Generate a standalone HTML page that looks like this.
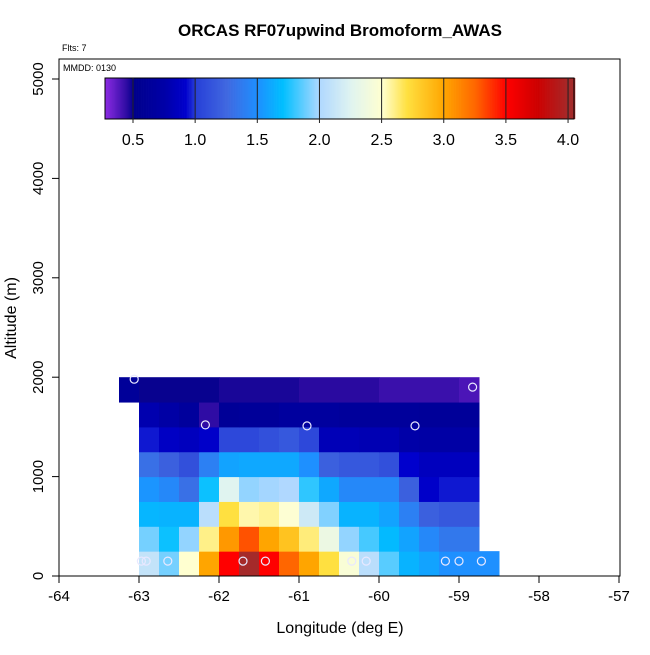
<!DOCTYPE html>
<html><head><meta charset="utf-8"><style>
body{margin:0;background:#fff}
svg text{font-family:"Liberation Sans",sans-serif}
</style></head><body>
<svg id="chart" width="650" height="650" xmlns="http://www.w3.org/2000/svg">
<text x="340" y="36" text-anchor="middle" font-size="17" font-weight="bold">ORCAS RF07upwind Bromoform_AWAS</text>
<text x="62" y="51" font-size="9">Flts: 7</text>
<g id="cells"></g>
<g id="pts"></g>
<rect x="59" y="59" width="561" height="517" fill="none" stroke="#000" stroke-width="1"/>
<text x="63" y="71" font-size="9">MMDD: 0130</text>
<g id="cbar"></g>
<g id="axes"></g>
<text x="340" y="633" text-anchor="middle" font-size="16">Longitude (deg E)</text>
<text transform="translate(16,318) rotate(-90)" text-anchor="middle" font-size="16">Altitude (m)</text>
</svg>
<script>
const xTicks=[-64,-63,-62,-61,-60,-59,-58,-57];
const yTicks=[0,1000,2000,3000,4000,5000];
const cbTicks=[0.5,1.0,1.5,2.0,2.5,3.0,3.5,4.0];
const colStart=-63.0, colWidth=0.25, rowHeight=250;
// rows from bottom (0-250 m upward); values in pptv
const row0=[2.1,1.9,2.5,3.0,3.5,4.0,3.5,3.25,3.0,2.7,2.45,2.05,1.85,1.65,1.58,1.5,1.5,1.5];
const row1=[1.9,1.72,1.95,2.6,3.05,3.3,3.0,2.85,2.62,2.35,1.95,1.82,1.68,1.58,1.45,1.35,1.35];
const row2=[1.66,1.65,1.65,2.05,2.7,2.55,2.58,2.48,2.15,1.92,1.65,1.65,1.58,1.4,1.2,1.15,1.15];
const row3=[1.52,1.45,1.3,1.72,2.25,1.95,1.98,2.0,1.78,1.6,1.45,1.45,1.45,1.2,0.9,0.95,0.95];
const row4=[1.3,1.2,1.1,1.4,1.58,1.6,1.6,1.6,1.5,1.2,1.15,1.15,1.1,0.92,0.85,0.85,0.85];
const row5=[0.95,0.88,0.85,0.9,1.05,1.05,1.1,1.15,1.05,0.82,0.82,0.8,0.8,0.75,0.72,0.72,0.72];
const row6=[0.78,0.72,0.65,0.44,0.6,0.62,0.62,0.66,0.66,0.66,0.64,0.64,0.64,0.64,0.62,0.62,0.62];
const rows=[row0,row1,row2,row3,row4,row5,row6];
// top layer (1750-2000 m) coarse bins: lon edges and values
const topEdges=[-63.25,-63,-62,-61,-60,-59,-58.75];
const topVals=[0.62,0.49,0.47,0.45,0.42,0.39];
const ptLon=[-63.06,-58.83,-62.17,-60.9,-59.55,-62.97,-62.91,-62.64,-61.7,-61.42,-60.34,-60.16,-59.17,-59.0,-58.72];
const ptAlt=[1980,1900,1520,1510,1510,150,150,150,150,150,150,150,150,150,150];

const X=v=>59+(v+64)*80;
const Y=a=>576-a*0.0994;
const CB=v=>133+(v-0.5)*124.3;
const stops=[[0.275,'#8a2be2'],[0.45,'#2a0aa0'],[0.5,'#00008b'],[0.75,'#0000a8'],[0.92,'#0000cd'],[1.0,'#2840d8'],[1.25,'#4068e0'],[1.5,'#1e90ff'],[1.7,'#00bfff'],[2.0,'#b0d8ff'],[2.25,'#e0f4f0'],[2.5,'#ffffd0'],[2.7,'#ffe040'],[3.0,'#ffa500'],[3.25,'#ff6600'],[3.5,'#ff0000'],[3.75,'#cd0000'],[4.0,'#a52a2a'],[4.05,'#a52a2a']];
function hex(c){return [1,3,5].map(i=>parseInt(c.substr(i,2),16));}
function cmap(v){
  if(v<=stops[0][0])return stops[0][1];
  for(let i=1;i<stops.length;i++){if(v<=stops[i][0]){const[a,ca]=stops[i-1],[b,cb]=stops[i];const t=(v-a)/(b-a);const A=hex(ca),B=hex(cb);return 'rgb('+A.map((x,k)=>Math.round(x+(B[k]-x)*t)).join(',')+')';}}
  return stops[stops.length-1][1];
}
const NS='http://www.w3.org/2000/svg';
function mk(t,at,p){const e=document.createElementNS(NS,t);for(const k in at)e.setAttribute(k,at[k]);p.appendChild(e);return e;}
const cells=document.getElementById('cells');
rows.forEach((r,ri)=>r.forEach((v,ci)=>{
  const x0=X(colStart+ci*colWidth),x1=X(colStart+(ci+1)*colWidth),y0=Y((ri+1)*rowHeight),y1=Y(ri*rowHeight);
  const e=mk('rect',{x:x0,y:y0,width:x1-x0+0.5,height:y1-y0+0.5,fill:cmap(v)},cells);
  
  
}));
topVals.forEach((v,i)=>{
  const x0=X(topEdges[i]),x1=X(topEdges[i+1]),y0=Y(2000),y1=Y(1750);
  const e=mk('rect',{x:x0,y:y0,width:x1-x0+0.5,height:y1-y0+0.5,fill:cmap(v)},cells);
  
  
});
const pts=document.getElementById('pts');
ptLon.forEach((lo,i)=>{
  const e=mk('circle',{cx:X(lo),cy:Y(ptAlt[i]),r:4,fill:'none',stroke:'#e8e8ff','stroke-width':1.2},pts);
  
  
});
// colorbar
const cb=document.getElementById('cbar');
for(let v=0.275;v<4.05;v+=0.01){mk('rect',{x:CB(v),y:78,width:1.6,height:41,fill:cmap(v)},cb);}
mk('rect',{x:105,y:78,width:469,height:41,fill:'none',stroke:'#000','stroke-width':1},cb);
cbTicks.forEach(t=>{
  mk('line',{x1:CB(t),x2:CB(t),y1:78,y2:123,stroke:'#222','stroke-width':1},cb);
  const e=mk('text',{x:CB(t),y:145,'text-anchor':'middle','font-size':16},cb);e.textContent=t.toFixed(1);
  
  
});
const ax=document.getElementById('axes');
xTicks.forEach(t=>{
  mk('line',{x1:X(t),x2:X(t),y1:576,y2:583,stroke:'#000'},ax);
  const e=mk('text',{x:X(t),y:601,'text-anchor':'middle','font-size':15},ax);e.textContent=t;
  
  
});
yTicks.forEach(t=>{
  mk('line',{x1:52,x2:59,y1:Y(t),y2:Y(t),stroke:'#000'},ax);
  const e=mk('text',{transform:'translate(43,'+Y(t)+') rotate(-90)','text-anchor':'middle','font-size':15},ax);e.textContent=t;
  
  
});
</script>
</body></html>
